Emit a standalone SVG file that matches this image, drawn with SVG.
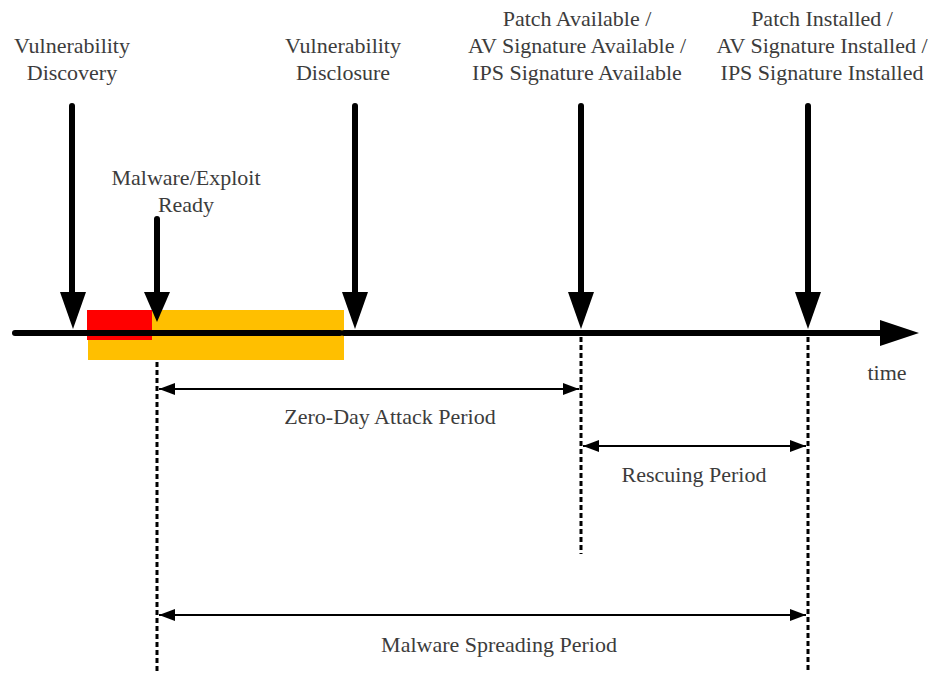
<svg xmlns="http://www.w3.org/2000/svg" width="938" height="673" viewBox="0 0 938 673">
  <defs>
    <style>
      .lbl { font-family: "Liberation Serif", "Times New Roman", serif; font-size: 22px; fill: #3c3c3c; text-anchor: middle; }
      .event { stroke: #000; stroke-width: 6; stroke-linecap: round; fill: none; }
      .axis { stroke: #000; stroke-width: 6; stroke-linecap: round; fill: none; }
      .guide { stroke: #000; stroke-width: 3; stroke-dasharray: 5 3; fill: none; }
      .span { stroke: #000; stroke-width: 2; fill: none; marker-start: url(#tipL); marker-end: url(#tipR); }
    </style>
    <marker id="tipR" markerUnits="userSpaceOnUse" viewBox="0 0 16 12" refX="16" refY="6" markerWidth="16" markerHeight="12" orient="auto">
      <path d="M0,0 L16,6 L0,12 Z" fill="#000"/>
    </marker>
    <marker id="tipL" markerUnits="userSpaceOnUse" viewBox="0 0 16 12" refX="0" refY="6" markerWidth="16" markerHeight="12" orient="auto">
      <path d="M16,0 L0,6 L16,12 Z" fill="#000"/>
    </marker>
  </defs>

  <rect width="938" height="673" fill="#fff"/>

  <!-- Attack windows on the timeline -->
  <g id="windows">
    <rect x="88" y="310" width="256" height="50" fill="#FFBF00"/>
    <rect x="87" y="310" width="65" height="30" fill="#FF0000"/>
  </g>

  <!-- Connectors: time axis, event arrows, guides and period spans -->
  <g id="connectors">
    <line class="axis" x1="15" y1="333" x2="340" y2="333"/>
    <line class="axis" x1="344" y1="333" x2="884" y2="333"/>
    <path d="M880,320 L919,333 L880,346 Z" fill="#000"/>

    <line class="event" x1="72" y1="106" x2="72" y2="300"/>
    <path d="M60,292 L86,292 L73,329 Z" fill="#000"/>
    <line class="event" x1="157" y1="219" x2="157" y2="300"/>
    <path d="M144,292 L170,292 L157,322 Z" fill="#000"/>
    <line class="event" x1="355" y1="106" x2="355" y2="300"/>
    <path d="M342,292 L368,292 L355,329 Z" fill="#000"/>
    <line class="event" x1="581" y1="106" x2="581" y2="300"/>
    <path d="M568,292 L594,292 L581,329 Z" fill="#000"/>
    <line class="event" x1="808" y1="106" x2="808" y2="300"/>
    <path d="M795,292 L821,292 L808,329 Z" fill="#000"/>

    <line class="guide" x1="157" y1="362" x2="157" y2="673"/>
    <line class="guide" x1="581" y1="337" x2="581" y2="554"/>
    <line class="guide" x1="808" y1="337" x2="808" y2="673"/>

    <line class="span" x1="159" y1="389" x2="579" y2="389"/>
    <line class="span" x1="583" y1="446" x2="806" y2="446"/>
    <line class="span" x1="159" y1="615" x2="806" y2="615"/>
  </g>

  <g id="discovery">
    <text class="lbl" x="72" y="53">Vulnerability</text>
    <text class="lbl" x="72" y="80">Discovery</text>
  </g>
  <g id="exploit-ready">
    <text class="lbl" x="186" y="185">Malware/Exploit</text>
    <text class="lbl" x="186" y="212">Ready</text>
  </g>
  <g id="disclosure">
    <text class="lbl" x="343" y="53">Vulnerability</text>
    <text class="lbl" x="343" y="80">Disclosure</text>
  </g>
  <g id="patch-available">
    <text class="lbl" x="577" y="26">Patch Available /</text>
    <text class="lbl" x="577" y="53">AV Signature Available /</text>
    <text class="lbl" x="577" y="80">IPS Signature Available</text>
  </g>
  <g id="patch-installed">
    <text class="lbl" x="822" y="26">Patch Installed /</text>
    <text class="lbl" x="822" y="53">AV Signature Installed /</text>
    <text class="lbl" x="822" y="80">IPS Signature Installed</text>
  </g>
  <g id="time-label">
    <text class="lbl" x="887" y="380">time</text>
  </g>
  <g id="zero-day">
    <text class="lbl" x="390" y="424">Zero-Day Attack Period</text>
  </g>
  <g id="rescuing">
    <text class="lbl" x="694" y="482">Rescuing Period</text>
  </g>
  <g id="spreading">
    <text class="lbl" x="499" y="652">Malware Spreading Period</text>
  </g>
</svg>
